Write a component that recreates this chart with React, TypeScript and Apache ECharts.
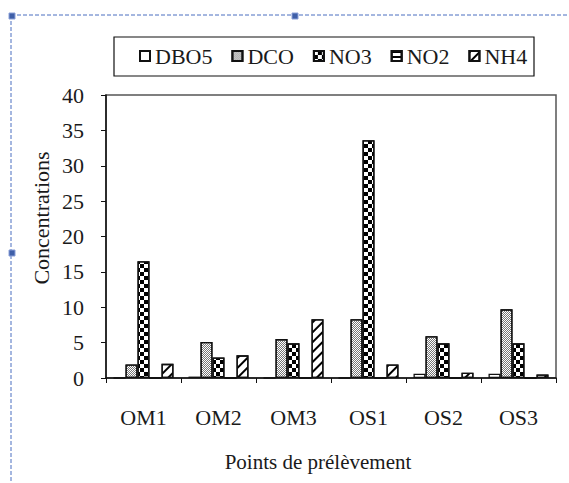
import React, { useEffect, useRef } from "react";
import * as echarts from "echarts";

const categories = ["OM1", "OM2", "OM3", "OS1", "OS2", "OS3"];
const seriesNames = ["DBO5", "DCO", "NO3", "NO2", "NH4"];
const dbo5 = [0, 0.2, 0, 0, 0.6, 0.6];
const dco = [1.9, 5.1, 5.5, 8.3, 5.9, 9.7];
const no3 = [16.5, 2.9, 4.9, 33.6, 4.9, 4.9];
const no2 = [0, 0, 0, 0, 0, 0];
const nh4 = [2.0, 3.2, 8.3, 1.9, 0.75, 0.5];
const yTicks = { min: 0, max: 40, interval: 5 };
const xTitle = "Points de prélèvement";
const yTitle = "Concentrations";

const FONT = "Liberation Serif";
const TXT = "#1a1a1a";

const decals: any[] = [
  null,
  {
    symbol: "rect",
    symbolSize: 1,
    color: "#777",
    dashArrayX: [
      [1, 1],
      [0, 1, 1, 0],
    ],
    dashArrayY: [1, 0],
  },
  {
    symbol: "rect",
    symbolSize: 1,
    color: "#000",
    dashArrayX: [
      [4, 4],
      [0, 4, 4, 0],
    ],
    dashArrayY: [4, 0],
  },
  {
    symbol: "rect",
    symbolSize: 1,
    color: "#000",
    dashArrayX: [1, 0],
    dashArrayY: [2, 3],
  },
  {
    symbol: "rect",
    symbolSize: 1,
    color: "#000",
    dashArrayX: [1, 0],
    dashArrayY: [2, 5],
    rotation: -Math.PI / 4,
  },
];

const dataSets = [dbo5, dco, no3, no2, nh4];

export default function App() {
  const ref = useRef<HTMLDivElement>(null);
  useEffect(() => {
    if (!ref.current) return;
    const chart = echarts.init(ref.current, undefined, { renderer: "svg" });
    const blue = "#4a6fc0";
    chart.setOption({
      animation: false,
      backgroundColor: "#ffffff",
      textStyle: { fontFamily: FONT },
      grid: {
        left: 106,
        right: 13,
        top: 95,
        bottom: 105,
        show: true,
        borderColor: "#555",
        borderWidth: 1.5,
        containLabel: false,
      },
      legend: {
        data: seriesNames,
        left: 139,
        top: 45,
        padding: 0,
        itemWidth: 10,
        itemHeight: 10,
        itemGap: 19,
        icon: "rect",
        textStyle: { fontFamily: FONT, fontSize: 22, color: TXT },
      },
      xAxis: {
        type: "category",
        data: categories,
        axisLine: { lineStyle: { color: "#111", width: 1.5 } },
        axisTick: { show: true, length: 5, lineStyle: { color: "#111" } },
        axisLabel: { margin: 28, fontFamily: FONT, fontSize: 22, color: TXT },
        splitLine: { show: false },
      },
      yAxis: {
        type: "value",
        min: yTicks.min,
        max: yTicks.max,
        interval: yTicks.interval,
        axisLine: { show: true, lineStyle: { color: "#111", width: 1.5 } },
        axisTick: { show: true, length: 5, lineStyle: { color: "#111" } },
        axisLabel: { margin: 22, fontFamily: FONT, fontSize: 22, color: TXT },
        splitLine: { show: false },
      },
      series: seriesNames.map((name, i) => ({
        name,
        type: "bar",
        data: dataSets[i],
        barGap: "0%",
        barCategoryGap: "20%",
        itemStyle: {
          color: "#ffffff",
          borderColor: "#111",
          borderWidth: 1.3,
          decal: decals[i] || undefined,
        },
      })),
      graphic: [
        {
          type: "line",
          shape: { x1: 11, y1: 15, x2: 569, y2: 15 },
          style: { stroke: blue, lineWidth: 1, lineDash: [4, 2] },
          silent: true,
        },
        {
          type: "line",
          shape: { x1: 11, y1: 15, x2: 11, y2: 483 },
          style: { stroke: blue, lineWidth: 1, lineDash: [4, 2] },
          silent: true,
        },
        {
          type: "rect",
          shape: { x: 9, y: 13, width: 6, height: 6 },
          style: { fill: "#3f5fa8", stroke: "#8aa0d8", lineWidth: 1 },
          silent: true,
        },
        {
          type: "rect",
          shape: { x: 292, y: 13, width: 6, height: 6 },
          style: { fill: "#3f5fa8", stroke: "#8aa0d8", lineWidth: 1 },
          silent: true,
        },
        {
          type: "rect",
          shape: { x: 9, y: 250, width: 6, height: 6 },
          style: { fill: "#3f5fa8", stroke: "#8aa0d8", lineWidth: 1 },
          silent: true,
        },
        {
          type: "rect",
          shape: { x: 114, y: 37, width: 420, height: 39 },
          style: { fill: "none", stroke: "#111", lineWidth: 1.2 },
          silent: true,
          z: 10,
        },
        {
          type: "text",
          x: 41,
          y: 218,
          rotation: Math.PI / 2,
          style: {
            text: yTitle,
            fontFamily: FONT,
            fontSize: 22,
            fill: TXT,
            align: "center",
            verticalAlign: "middle",
          },
          silent: true,
        },
        {
          type: "text",
          x: 318,
          y: 462,
          style: {
            text: xTitle,
            fontFamily: FONT,
            fontSize: 21,
            fill: TXT,
            align: "center",
            verticalAlign: "middle",
          },
          silent: true,
        },
      ],
    });
    return () => chart.dispose();
  }, []);
  return (
    <div
      ref={ref}
      style={{ position: "absolute", left: 0, top: 0, width: 569, height: 483 }}
    />
  );
}
